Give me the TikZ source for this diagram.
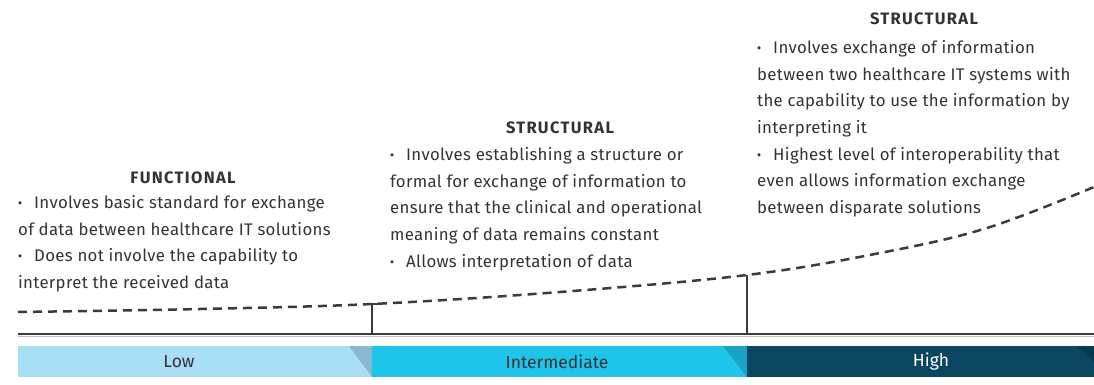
\documentclass[tikz,border=0pt]{standalone}
\usepackage{fontspec}
\setmainfont{Fira Sans}
\newfontfamily\titlefont[LetterSpace=8]{Fira Sans}
\newfontfamily\bodyfont[LetterSpace=1.8]{Fira Sans}
\definecolor{lowc}{HTML}{A8DFF5}
\definecolor{lowtri}{HTML}{8AB9CF}
\definecolor{midc}{HTML}{1EC5EA}
\definecolor{midtri}{HTML}{18A3C5}
\definecolor{highc}{HTML}{08475F}
\definecolor{hightri}{HTML}{063A50}
\definecolor{txt}{HTML}{333333}
\definecolor{ln}{HTML}{3C3A3B}
\newcommand{\bul}{{\bfseries·}\hspace{12pt}}
\begin{document}
\begin{tikzpicture}[x=1pt,y=-1pt,
  body/.style={anchor=north west,inner sep=0pt,align=left,text=txt,font=\bodyfont\fontsize{16.8}{26.7}\selectfont},
  title/.style={inner sep=0pt,text=txt,font=\titlefont\fontsize{16.5}{18}\selectfont\bfseries},
  barlabel/.style={inner sep=0pt,font=\fontsize{17.5}{18}\selectfont},
  tick/.style={draw=ln,line width=2.2pt}]
\useasboundingbox (0,0) rectangle (1094,385);
% bars
\fill[lowc] (18,346) rectangle (372,377);
\fill[lowtri] (349,346) -- (372,346) -- (372,377) -- cycle;
\fill[midc] (372,346) rectangle (747,377);
\fill[midtri] (723,346) -- (747,346) -- (747,377) -- cycle;
\fill[highc] (747,346) rectangle (1094,377);
\fill[hightri] (1077,346) -- (1094,346) -- (1094,362) -- cycle;
\node[barlabel,text=txt] (low) at (179,362) {Low};
\node[barlabel,text=txt] (mid) at (557,362) {Intermediate};
\node[barlabel,text=white] (high) at (931,362) {High};
% baseline
\coordinate (b0) at (18,334);
\coordinate (b1) at (1094,334);
\draw[draw=ln,line width=2.2pt] (b0) -- (b1);
\draw[draw=black!25,line width=1pt] (18,336) -- (1094,336);
\coordinate (t1b) at (372,334);
\coordinate (t1t) at (372,304);
\coordinate (t2b) at (747,334);
\coordinate (t2t) at (747,275);
\draw[tick] (t1b) -- (t1t);
\draw[tick] (t2b) -- (t2t);
\draw[tick] (366,304) -- (378,304);
% dashed curve
\draw[draw=ln,line width=2.5pt,dash pattern=on 9pt off 6pt]
  plot[smooth,tension=0.6] coordinates {(18,312) (200,309) (372,304) (560,292) (747,275) (880,253) (987,228) (1094,187)};
% texts
\node[title] (ft) at (183,178) {FUNCTIONAL};
\node[body] (fb) at (18,195) {\bul Involves basic standard for exchange\\of data between healthcare IT solutions\\\bul Does not involve the capability to\\interpret the received data};
\node[title] (mt) at (560,128) {STRUCTURAL};
\node[body] (mb) at (390,147) {\bul Involves establishing a structure or\\formal for exchange of information to\\ensure that the clinical and operational\\meaning of data remains constant\\\bul Allows interpretation of data};
\node[title] (ht) at (924,19) {STRUCTURAL};
\node[body] (hb) at (757,40) {\bul Involves exchange of information\\between two healthcare IT systems with\\the capability to use the information by\\interpreting it\\\bul Highest level of interoperability that\\even allows information exchange\\between disparate solutions};
\end{tikzpicture}
\end{document}
